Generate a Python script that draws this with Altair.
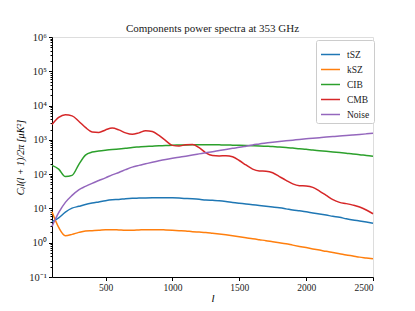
import altair as alt
import pandas as pd

ell = [100, 150, 200, 250, 300, 350, 400, 450, 500, 550, 600, 650, 700, 750, 800, 850,
       900, 950, 1000, 1050, 1100, 1150, 1200, 1250, 1300, 1350, 1400, 1450, 1500, 1550,
       1600, 1650, 1700, 1750, 1800, 1850, 1900, 1950, 2000, 2050, 2100, 2150, 2200, 2250,
       2300, 2350, 2400, 2450, 2500]

tsz = [4.1, 5.3, 7.8, 10.2, 11.5, 13, 14.3, 15.5, 16.8, 17.8, 18.3, 19.2, 19.8, 20, 20.2, 20.4,
       20.6, 20.6, 20.4, 20, 19.5, 19, 18.4, 17.6, 17.2, 16.8, 16, 15, 14.2, 13.5,
       12.8, 12.2, 11.6, 11, 10.4, 9.7, 9.0, 8.5, 8.0, 7.4, 6.9, 6.4, 5.9, 5.5,
       5.0, 4.6, 4.3, 4.0, 3.7]

ksz = [8, 2.8, 1.6, 1.75, 2.0, 2.2, 2.25, 2.3, 2.4, 2.4, 2.35, 2.3, 2.3, 2.35, 2.4, 2.4,
       2.4, 2.35, 2.3, 2.25, 2.2, 2.1, 2.05, 2.0, 1.9, 1.8, 1.7, 1.6, 1.5, 1.4,
       1.3, 1.22, 1.15, 1.07, 1.0, 0.93, 0.85, 0.78, 0.72, 0.66, 0.61, 0.56, 0.52, 0.48,
       0.44, 0.41, 0.38, 0.36, 0.34]

cib = [180, 140, 85, 92, 190, 360, 440, 475, 500, 520, 545, 570, 600, 620, 640, 655,
       670, 680, 700, 705, 710, 715, 720, 720, 720, 715, 710, 700, 695, 685,
       675, 665, 650, 635, 615, 595, 575, 550, 530, 505, 485, 465, 445, 425,
       405, 385, 370, 350, 335]

cmb = [2800, 4500, 5400, 5000, 3500, 2300, 1700, 1650, 1950, 2200, 1950, 1600, 1450, 1600, 1850, 1750,
       1350, 950, 690, 660, 720, 730, 590, 420, 350, 340, 345, 320, 250, 185,
       140, 124, 122, 110, 85, 66, 52, 46, 45, 41, 32, 24, 18, 15,
       13.8, 12.5, 11, 9, 7]

noise = [3.0, 7.5, 15, 24, 35, 44, 54, 65, 78, 95, 112, 135, 160, 180, 200, 222,
         245, 268, 290, 312, 335, 362, 390, 420, 450, 487, 525, 565, 605, 655,
         710, 760, 815, 850, 890, 935, 980, 1025, 1070, 1115, 1160, 1205, 1250, 1295,
         1340, 1390, 1440, 1495, 1550]

names = ["tSZ", "kSZ", "CIB", "CMB", "Noise"]
colors = ["#1f77b4", "#ff7f0e", "#2ca02c", "#d62728", "#9467bd"]
series = [tsz, ksz, cib, cmb, noise]

rows = []
for name, vals in zip(names, series):
    for l, v in zip(ell, vals):
        rows.append({"l": l, "value": v, "component": name, "order": names.index(name)})
df = pd.DataFrame(rows)

yticks = []
for d in range(-1, 6):
    for k in range(1, 10):
        yticks.append(k * 10 ** d)
yticks.append(10 ** 6)

major_test = "abs(log(datum.value)/log(10) - round(log(datum.value)/log(10))) < 1e-6"
label_expr = (
    "abs(log(datum.value)/log(10) - round(log(datum.value)/log(10))) > 1e-6 ? '' : "
    "round(log(datum.value)/log(10)) == -1 ? '10\u207b\u00b9' : "
    "round(log(datum.value)/log(10)) == 0 ? '10\u2070' : "
    "round(log(datum.value)/log(10)) == 1 ? '10\u00b9' : "
    "round(log(datum.value)/log(10)) == 2 ? '10\u00b2' : "
    "round(log(datum.value)/log(10)) == 3 ? '10\u00b3' : "
    "round(log(datum.value)/log(10)) == 4 ? '10\u2074' : "
    "round(log(datum.value)/log(10)) == 5 ? '10\u2075' : '10\u2076'"
)

font = "Liberation Serif"

chart = alt.Chart(df).mark_line(strokeWidth=1.5, interpolate="monotone").encode(
    x=alt.X("l:Q", scale=alt.Scale(domain=[100, 2500], nice=False, zero=False),
            axis=alt.Axis(title="l", titleFontStyle="italic", values=[500, 1000, 1500, 2000, 2500],
                          format="d", grid=False, tickColor="black", domainColor="black",
                          labelColor="#222", labelFont=font, labelFontSize=9.5, titleFont=font,
                          titleFontSize=11, titleFontWeight="normal", titlePadding=0,
                          tickSize=3.5, labelPadding=2)),
    y=alt.Y("value:Q", scale=alt.Scale(type="log", domain=[0.1, 1e6], nice=False),
            axis=alt.Axis(title="C\u2097l(l + 1)/2\u03c0 [\u03bcK\u00b2]", titleFontStyle="italic",
                          values=yticks, labelExpr=label_expr, grid=False,
                          tickColor="black", domainColor="black", labelColor="#222",
                          tickSize={"condition": {"test": major_test, "value": 3.5}, "value": 2},
                          labelFont=font, labelFontSize=10.5, titleFont=font, titleFontSize=10,
                          titleFontWeight="normal", titlePadding=3, labelPadding=2,
                          labelOverlap=False, labelFlush=False)),
    color=alt.Color("component:N", scale=alt.Scale(domain=names, range=colors),
                    legend=alt.Legend(title=None, orient="none", legendX=264, legendY=3,
                                      symbolType="stroke", symbolStrokeWidth=1.5, symbolSize=361,
                                      labelFont=font, labelFontSize=9.5, labelColor="#222",
                                      strokeColor="#ccc", fillColor="white", cornerRadius=2,
                                      padding=4, rowPadding=0, labelOffset=6)),
    order="order:Q",
).properties(
    width=321, height=240,
    title=alt.TitleParams("Components power spectra at 353 GHz", font=font, fontSize=11,
                          fontWeight="normal", color="#222", anchor="middle", offset=3,
                          frame="group", dy=5),
    autosize=alt.AutoSizeParams(type="none"),
    padding={"left": 44, "top": 29, "right": 30, "bottom": 32},
).configure_view(stroke="black", strokeWidth=1).configure(background="white")

chart.save("out.html", embed_options={"renderer": "svg", "actions": False})
